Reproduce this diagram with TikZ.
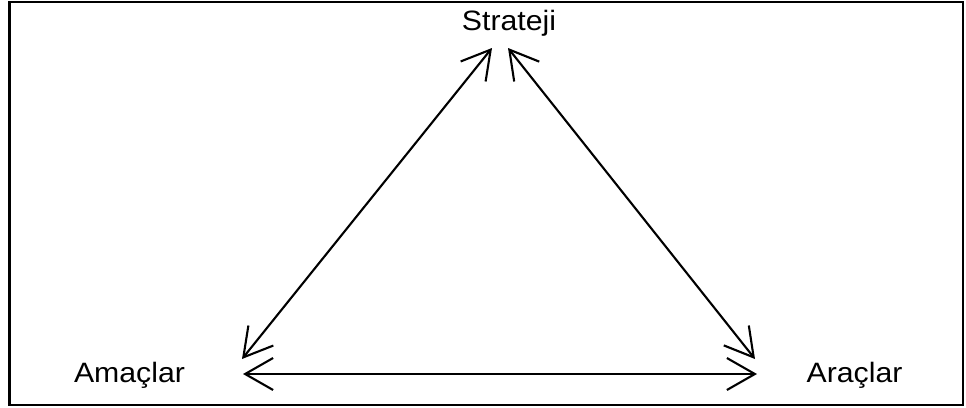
\documentclass[tikz,border=0pt]{standalone}
\usepackage{fontspec}
\setmainfont{Liberation Sans}
\usetikzlibrary{arrows.meta}
\tikzset{
  lbl/.style={anchor=base, inner sep=0pt, font=\fontsize{28}{32}\selectfont},
  conn/.style={line width=2.1pt, {Straight Barb[length=28pt,width=32pt]}-{Straight Barb[length=28pt,width=32pt]}},
  frame/.style={line width=2.6pt}
}
\begin{document}
\begin{tikzpicture}[x=1pt,y=-1pt]
\useasboundingbox (0,0) rectangle (966,407);
\draw[frame] (9.5,2) rectangle (963,405);
\node[lbl] (strat) at (509,30) {\scalebox{1.08}[1]{Strateji}};
\node[lbl] (amac) at (129.5,382) {\scalebox{1.08}[1]{Amaçlar}};
\node[lbl] (arac) at (854.5,382) {\scalebox{1.08}[1]{Araçlar}};
\coordinate (tl) at (492,48);
\coordinate (tr) at (508,48);
\coordinate (bld) at (242,359);
\coordinate (brd) at (755,359);
\coordinate (blh) at (243,374);
\coordinate (brh) at (757,374);
\draw[conn] (tl) -- (bld);
\draw[conn] (tr) -- (brd);
\draw[conn] (blh) -- (brh);
\end{tikzpicture}
\end{document}
